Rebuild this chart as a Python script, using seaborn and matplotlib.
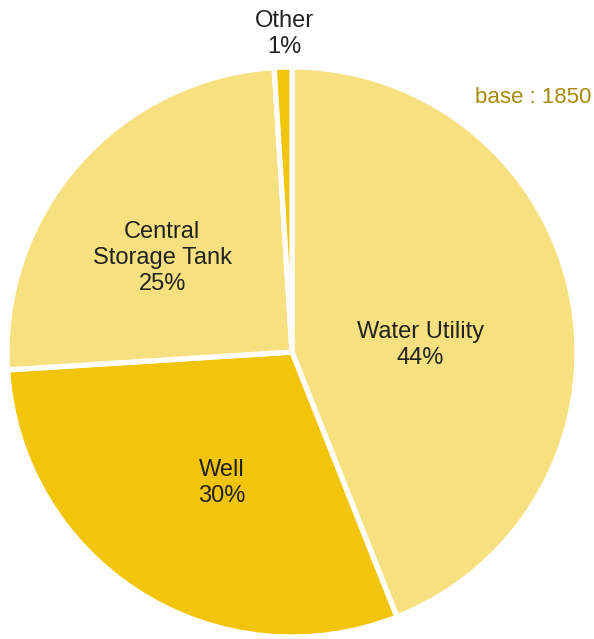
import matplotlib
matplotlib.use("Agg")
import matplotlib.pyplot as plt
import seaborn as sns

sns.set_theme(style="white")
plt.rcParams["font.family"] = ["Liberation Sans Narrow", "Liberation Sans", "DejaVu Sans"]

# Water source shares, clockwise from the top
categories = ["Water Utility", "Well", "Central Storage Tank", "Other"]
shares = [44, 30, 25, 1]
label_text = ["Water Utility", "Well", "Central\nStorage Tank", "Other"]
base_n = 1850

colors = ["#F7E07F", "#F2C50A", "#F7E07F", "#F2C50A"]
# label anchor points in axis units (radius = 1)
label_xy = [(0.45, 0.025), (-0.245, -0.46), (-0.455, 0.33), (-0.028, 1.115)]

fig = plt.figure(figsize=(5.94, 6.39), dpi=100)
ax = fig.add_axes([0.0118, 0.0031, 0.9596, 0.892])
ax.pie(shares, colors=colors, startangle=90, counterclock=False,
       wedgeprops=dict(edgecolor="white", linewidth=3.8))
ax.set_xlim(-1, 1)
ax.set_ylim(-1, 1)
ax.set_aspect("auto")

for txt, val, (x, y) in zip(label_text, shares, label_xy):
    ax.text(x, y, f"{txt}\n{val}%", ha="center", va="center",
            fontsize=17, color="#222222", linespacing=1.22, clip_on=False)

fig.text(0.995, 0.848, f"base : {base_n}", ha="right", va="center",
         fontsize=16, color="#A8880A")

fig.savefig("out.png", dpi=100)
